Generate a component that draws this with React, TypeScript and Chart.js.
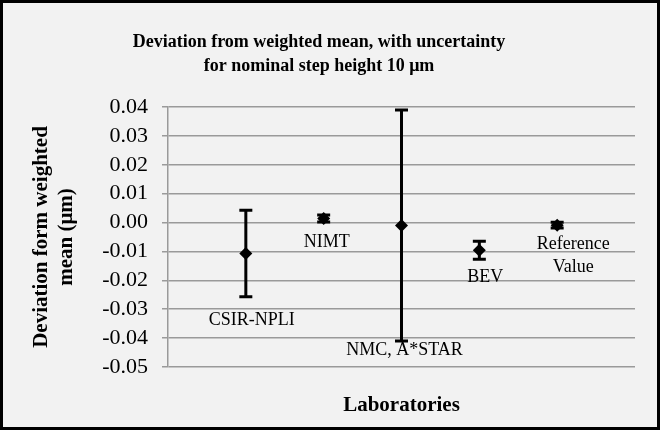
import React, { useEffect, useRef } from 'react';
import { Chart, registerables } from 'chart.js';

Chart.register(...registerables);

// ---- data ----
const laboratories = ['CSIR-NPLI', 'NIMT', 'NMC, A*STAR', 'BEV', 'Reference Value'];
const labelLines = [['CSIR-NPLI'], ['NIMT'], ['NMC, A*STAR'], ['BEV'], ['Reference', 'Value']];
const xPositions = [1, 2, 3, 4, 5];
const deviation = [-0.0107, 0.0014, -0.001, -0.0096, -0.0009];
const uncertainty = [0.015, 0.0012, 0.04, 0.0031, 0.001];
const yMin = -0.05;
const yMax = 0.04;
const yStep = 0.01;

const titleLines = ['Deviation from weighted mean, with uncertainty', 'for nominal step height 10 \u03bcm'];
const yTitleLines = ['Deviation form weighted', 'mean (\u03bcm)'];
const xTitle = 'Laboratories';

// label offsets from the marker (pixels), style only
const labelOffsets = [
  [6, 67],
  [3, 24],
  [3, 125],
  [6, 27],
  [16, 19],
];

const SERIF = "'Liberation Serif', 'Times New Roman', serif";

const errorBarPlugin = {
  id: 'errorBars',
  afterDatasetsDraw(chart: any) {
    const { ctx, scales } = chart;
    const meta = chart.getDatasetMeta(0);
    const ys = scales.y;
    ctx.save();
    ctx.strokeStyle = '#000';
    ctx.lineWidth = 3;
    meta.data.forEach((pt: any, i: number) => {
      const x = pt.x;
      const yTop = ys.getPixelForValue(deviation[i] + uncertainty[i]);
      const yBot = ys.getPixelForValue(deviation[i] - uncertainty[i]);
      ctx.beginPath();
      ctx.moveTo(x, yTop);
      ctx.lineTo(x, yBot);
      ctx.moveTo(x - 6.5, yTop);
      ctx.lineTo(x + 6.5, yTop);
      ctx.moveTo(x - 6.5, yBot);
      ctx.lineTo(x + 6.5, yBot);
      ctx.stroke();
    });
    ctx.restore();
  },
};

const labelPlugin = {
  id: 'pointLabels',
  afterDraw(chart: any) {
    const { ctx } = chart;
    const meta = chart.getDatasetMeta(0);
    ctx.save();
    ctx.fillStyle = '#000';
    ctx.font = `18px ${SERIF}`;
    ctx.textAlign = 'center';
    ctx.textBaseline = 'middle';
    meta.data.forEach((pt: any, i: number) => {
      const off = labelOffsets[i];
      labelLines[i].forEach((line, j) => {
        ctx.fillText(line, pt.x + off[0], pt.y + off[1] + j * 23);
      });
    });
    ctx.restore();
  },
};

export default function App() {
  const canvasRef = useRef<HTMLCanvasElement | null>(null);

  useEffect(() => {
    document.body.style.margin = '0';
    const canvas = canvasRef.current;
    if (!canvas) return;
    const chart = new Chart(canvas, {
      type: 'scatter',
      data: {
        labels: laboratories,
        datasets: [
          {
            label: 'Deviation',
            data: xPositions.map((x, i) => ({ x, y: deviation[i] })),
            pointStyle: 'rectRot',
            pointRadius: 6.5,
            pointBackgroundColor: '#000',
            pointBorderColor: '#000',
            pointBorderWidth: 0,
            showLine: false,
          },
        ],
      },
      options: {
        responsive: false,
        animation: false,
        layout: { padding: { left: 0, right: 22, top: 0, bottom: 0 } },
        plugins: {
          legend: { display: false },
          tooltip: { enabled: false },
          title: {
            display: true,
            text: titleLines,
            color: '#000',
            font: { family: SERIF, size: 18, weight: 'bold', lineHeight: 1.333 },
            padding: { top: 27, bottom: 29 },
          },
        },
        scales: {
          x: {
            type: 'linear',
            min: 0,
            max: 6,
            ticks: { display: false },
            grid: { display: false, drawTicks: false },
            border: { display: false },
            title: {
              display: true,
              text: xTitle,
              color: '#000',
              font: { family: SERIF, size: 21, weight: 'bold', lineHeight: 1.2 },
              padding: { top: 26, bottom: 9 },
            },
            afterFit(scale: any) {
              scale.height = 60;
            },
          },
          y: {
            min: yMin,
            max: yMax,
            ticks: {
              stepSize: yStep,
              autoSkip: false,
              color: '#000',
              padding: 14,
              font: { family: SERIF, size: 22 },
              callback: (v: any) => {
                const n = Number(v);
                return Math.abs(n) < 1e-9 ? '0.00' : n.toFixed(2);
              },
            },
            grid: { color: '#9a9a9a', lineWidth: 1.5, tickLength: 6, drawTicks: true },
            border: { display: true, color: '#9a9a9a', width: 1.5 },
            title: {
              display: true,
              text: yTitleLines,
              color: '#000',
              font: { family: SERIF, size: 21, weight: 'bold', lineHeight: 1.15 },
              padding: { top: 27, bottom: 0 },
            },
            afterFit(scale: any) {
              scale.width = 165;
            },
          },
        },
      },
      plugins: [errorBarPlugin, labelPlugin],
    });
    return () => chart.destroy();
  }, []);

  return (
    <div
      style={{
        width: 660,
        height: 430,
        boxSizing: 'border-box',
        border: '3px solid #000',
        background: '#f2f2f2',
      }}
    >
      <canvas ref={canvasRef} width={654} height={424} style={{ display: 'block' }} />
    </div>
  );
}
